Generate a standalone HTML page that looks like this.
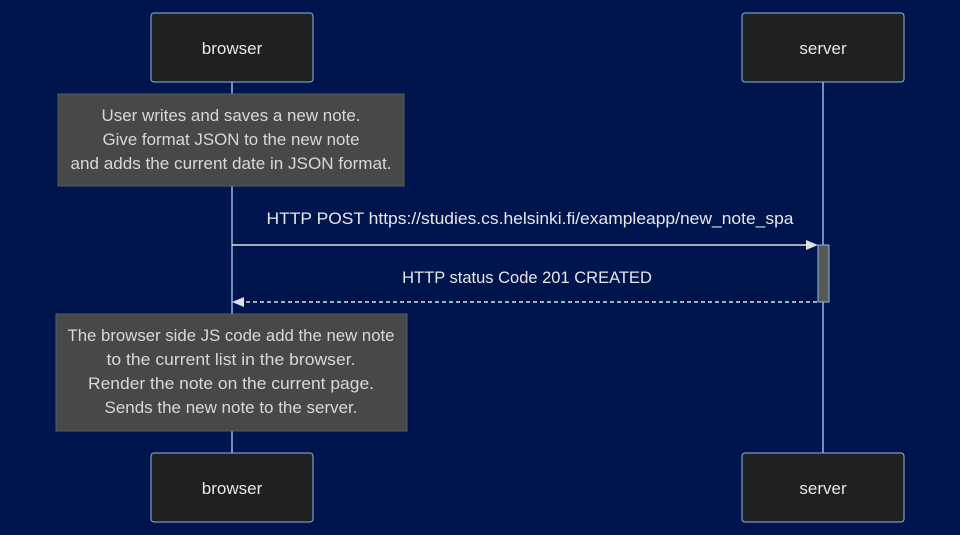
<!DOCTYPE html>
<html><head><meta charset="utf-8"><style>
body{margin:0;background:#00154e;}
svg{display:block;font-family:"Liberation Sans","DejaVu Sans",sans-serif;}
</style></head><body>
<svg width="960" height="535" viewBox="0 0 960 535" xmlns="http://www.w3.org/2000/svg">
<rect width="960" height="535" fill="#00154e"/>
<line x1="232" y1="82" x2="232" y2="453" stroke="#8fb8e6" stroke-width="1.5"/>
<line x1="823" y1="82" x2="823" y2="453" stroke="#8fb8e6" stroke-width="1.5"/>
<g fill="#1f2020" stroke="#8fb8e6" stroke-width="1">
<rect x="151" y="13" width="162" height="69" rx="3"/>
<rect x="742" y="13" width="162" height="69" rx="3"/>
<rect x="151" y="453" width="162" height="69" rx="3"/>
<rect x="742" y="453" width="162" height="69" rx="3"/>
</g>
<g fill="#e6e6e6" font-size="17" text-anchor="middle">
<text x="232" y="54">browser</text>
<text x="823" y="54">server</text>
<text x="232" y="494">browser</text>
<text x="823" y="494">server</text>
</g>
<rect x="58" y="94" width="346" height="92" fill="#474949" stroke="#5a5a5a"/>
<g fill="#d8d8d8" font-size="16.5" text-anchor="middle">
<text x="231" y="121" textLength="259" lengthAdjust="spacingAndGlyphs">User writes and saves a new note.</text>
<text x="231" y="145" textLength="257" lengthAdjust="spacingAndGlyphs">Give format JSON to the new note</text>
<text x="231" y="169" textLength="321" lengthAdjust="spacingAndGlyphs">and adds the current date in JSON format.</text>
</g>
<rect x="818" y="245" width="11" height="57" fill="#555a55" stroke="#8fb8e6"/>
<text x="530" y="224" fill="#e6e6e6" font-size="16.5" text-anchor="middle" textLength="527" lengthAdjust="spacingAndGlyphs">HTTP POST https://studies.cs.helsinki.fi/exampleapp/new_note_spa</text>
<line x1="232" y1="245" x2="808" y2="245" stroke="#e0e0e0" stroke-width="1.5"/>
<polygon points="818,245 806,240 806,250" fill="#e0e0e0"/>
<text x="527" y="283" fill="#e6e6e6" font-size="16.5" text-anchor="middle">HTTP status Code 201 CREATED</text>
<line x1="817" y1="302" x2="242" y2="302" stroke="#e0e0e0" stroke-width="1.5" stroke-dasharray="4,3"/>
<polygon points="232,302 244,297 244,307" fill="#e0e0e0"/>
<rect x="56" y="314" width="351" height="117" fill="#474949" stroke="#5a5a5a"/>
<g fill="#d8d8d8" font-size="16.5" text-anchor="middle">
<text x="231" y="341" textLength="327" lengthAdjust="spacingAndGlyphs">The browser side JS code add the new note</text>
<text x="231" y="365" textLength="249" lengthAdjust="spacingAndGlyphs">to the current list in the browser.</text>
<text x="231" y="389" textLength="286" lengthAdjust="spacingAndGlyphs">Render the note on the current page.</text>
<text x="231" y="413" textLength="253" lengthAdjust="spacingAndGlyphs">Sends the new note to the server.</text>
</g>
</svg>
</body></html>
